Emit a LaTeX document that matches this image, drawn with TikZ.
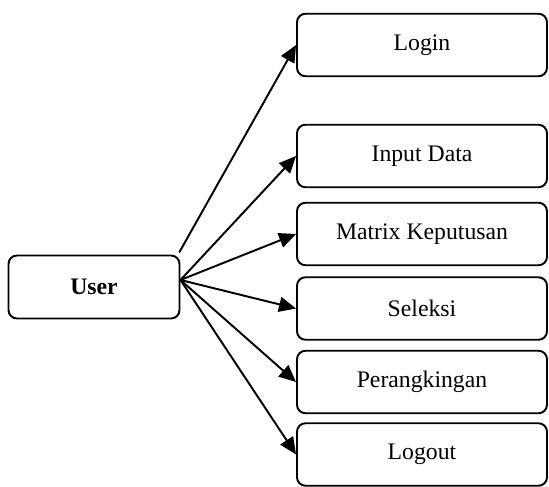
\documentclass[tikz,border=0pt]{standalone}
\usepackage{fontspec}
\setmainfont{Liberation Serif}
\usetikzlibrary{arrows.meta}
\begin{document}
\begin{tikzpicture}[line join=round, line cap=round,>={Triangle[length=0.34cm,width=0.3cm]},line width=1.1pt]
			\tikzset{every node/.style={font=\fontsize{13.5}{16}\selectfont},
				menubox/.style={draw,rounded corners=0.17cm,minimum width=5cm,minimum height=1.25cm,inner sep=0pt}}
			\useasboundingbox (0,0) rectangle (10.98,9.74);
			\node[menubox,minimum width=3.42cm,minimum height=1.26cm] (user) at (1.88,4.0) {\textbf{User}};
			\foreach \n/\t/\y in {login/Login/8.84,input/Input Data/6.62,matrix/Matrix Keputusan/5.06,seleksi/Seleksi/3.57,rank/Perangkingan/2.10,logout/Logout/0.65}
			\node[menubox] (\n) at (8.44,\y) {\t};
			\coordinate (hub) at ([yshift=0.14cm]user.east);
			\coordinate (up) at ([shift={(-0.02cm,0.05cm)}]user.north east);
			\draw[->] (up)--(login.west);
			\foreach \n in {input,matrix,seleksi,rank,logout}
			\draw[->] (hub)--(\n.west);
			\end{tikzpicture}
\end{document}
